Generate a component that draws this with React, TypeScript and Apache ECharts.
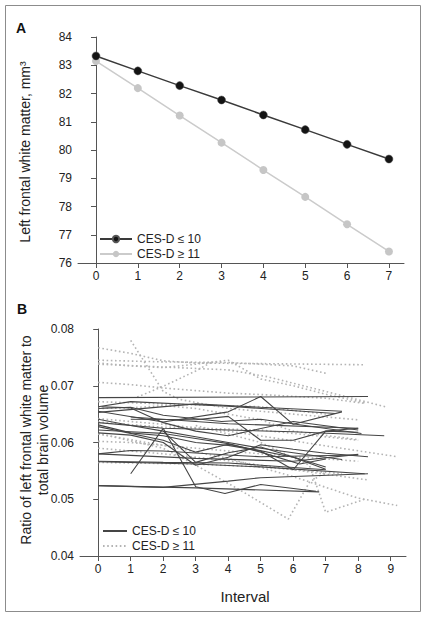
import React, { useEffect, useRef } from "react";
import * as echarts from "echarts";

// Panel A
const intervalsA = [0, 1, 2, 3, 4, 5, 6, 7];
const lowA = [83.33, 82.8, 82.28, 81.77, 81.24, 80.72, 80.2, 79.68];
const highA = [83.15, 82.19, 81.22, 80.26, 79.29, 78.34, 77.37, 76.41];

// Panel B
const ticksB = [0, 1, 2, 3, 4, 5, 6, 7, 8, 9];
const solidB: number[][][] = [
  [[0, 0.0679], [8.3, 0.0681]],
  [[0, 0.0663], [1, 0.0672], [4, 0.0664], [7.3, 0.0651]],
  [[0, 0.0653], [3, 0.0668], [5, 0.0662], [7.5, 0.0655]],
  [[0, 0.0655], [2, 0.0636], [4, 0.0654], [5, 0.0681], [6, 0.0632], [7.5, 0.0654]],
  [[0.1, 0.0663], [1, 0.0661], [2, 0.0635], [3, 0.062], [4, 0.0612], [6, 0.0637], [8, 0.0622]],
  [[1, 0.0645], [4, 0.0633], [8, 0.0625]],
  [[0, 0.0635], [2, 0.0625], [4, 0.0622], [6, 0.0619], [8.8, 0.0612]],
  [[0, 0.0631], [1, 0.0617], [2, 0.0612], [3, 0.06], [4, 0.0595], [5, 0.0585], [6, 0.0552], [7, 0.062], [8, 0.0618]],
  [[0, 0.0628], [2, 0.0604], [3, 0.0583], [4, 0.0597], [6, 0.0574], [7, 0.0553]],
  [[0, 0.0617], [1, 0.0613], [2, 0.06], [3, 0.056], [4, 0.0574], [5, 0.0596], [6, 0.0588], [7, 0.0581], [8.3, 0.0575]],
  [[0, 0.058], [1, 0.0586], [2, 0.0585], [4, 0.0578], [5, 0.0575], [8, 0.0578]],
  [[0, 0.0567], [2, 0.0565], [4, 0.0564], [7, 0.0552]],
  [[0, 0.0566], [3, 0.0562], [5, 0.0557], [8.2, 0.0545]],
  [[0, 0.0524], [2, 0.0521], [4, 0.0532], [5, 0.0538], [8.3, 0.0545]],
  [[0, 0.0524], [3, 0.052], [6.8, 0.0513]],
  [[1, 0.0545], [2, 0.0625], [3, 0.0522], [3.9, 0.051], [5, 0.0526], [6.7, 0.0514]],
  [[0, 0.0622], [1, 0.0619], [2, 0.0616], [3, 0.0607], [4, 0.0598], [5, 0.0583], [6.2, 0.0562], [7, 0.0571]],
  [[1, 0.0641], [3, 0.064], [4, 0.0646], [5, 0.0604], [6, 0.0604], [7, 0.062], [8, 0.0625]],
  [[0, 0.0641], [1, 0.063], [2, 0.062], [3, 0.061], [4, 0.06], [5, 0.059], [6, 0.0582], [7.5, 0.057]],
  [[2, 0.062], [3, 0.0565], [4, 0.0582], [5, 0.0592], [7, 0.0557]],
  [[0, 0.066], [1, 0.0662], [2, 0.0648], [3.8, 0.0637], [5, 0.0641], [8.1, 0.0616]],
  [[0, 0.058], [3, 0.0572], [6, 0.0567], [8, 0.0579]],
];
const dottedB: number[][][] = [
  [[0, 0.0767], [1, 0.0757], [2, 0.0744], [3, 0.074], [5, 0.0739], [8.2, 0.0737]],
  [[1, 0.078], [1.5, 0.0735], [2, 0.069], [2.5, 0.0676], [4, 0.066], [6, 0.065], [8, 0.064]],
  [[0, 0.0745], [2, 0.0742], [4, 0.0741], [6, 0.0735], [7, 0.0722]],
  [[0, 0.074], [1, 0.0735], [2, 0.0732], [3, 0.0738], [4, 0.0745], [5, 0.0712], [6, 0.07], [7, 0.0685], [8.2, 0.067]],
  [[0, 0.0738], [2, 0.0733], [4, 0.0728], [5.2, 0.0716], [7, 0.069], [8.9, 0.0662]],
  [[0, 0.0706], [1, 0.0702], [2, 0.0696], [4, 0.0687], [5.2, 0.0684], [7, 0.0678], [8.2, 0.0669]],
  [[1.2, 0.068], [2, 0.0699], [3, 0.0726], [3.5, 0.0742]],
  [[0, 0.0672], [2, 0.0668], [5, 0.0663], [7, 0.065]],
  [[0, 0.0642], [2, 0.0632], [4, 0.062], [6, 0.0603], [7, 0.0594], [9.2, 0.0575]],
  [[0, 0.0615], [2, 0.0595], [4, 0.0572], [6, 0.054], [8, 0.0502], [9.2, 0.0489]],
  [[0, 0.0616], [2, 0.059], [3, 0.056], [4.4, 0.0515], [5.85, 0.0465], [6.5, 0.053], [7, 0.0548]],
  [[3, 0.063], [5, 0.06], [6.5, 0.056], [7, 0.0477], [8.2, 0.05]],
  [[0, 0.059], [2, 0.058], [4, 0.0568], [6, 0.0552], [8.3, 0.0534]],
  [[0, 0.0565], [3, 0.0562], [5, 0.0557], [7.5, 0.0545]],
  [[0, 0.0636], [2, 0.0627], [5, 0.0622], [8, 0.0604]],
  [[0, 0.066], [1, 0.0661], [2, 0.0665], [3, 0.066], [5, 0.064], [6, 0.062], [8, 0.0605]],
  [[0, 0.0602], [1, 0.06], [2, 0.0595], [4, 0.0585], [6, 0.0575], [8, 0.0567]],
];

const FONT = "Liberation Sans, Arial, sans-serif";
const LOW = "CES-D ≤ 10";
const HIGH = "CES-D ≥ 11";
const names: Record<string, string> = { A_low: LOW, A_high: HIGH, B_low: LOW, B_high: HIGH };
const SOLID_COLOR = "#454545";
const DOT_COLOR = "#b4b4b4";

export default function App() {
  const ref = useRef<HTMLDivElement>(null);
  useEffect(() => {
    const chart = echarts.init(ref.current!, null, { renderer: "svg" });
    const axisCommon = {
      axisLine: { show: true, lineStyle: { color: "#555", width: 1 } },
      axisTick: { show: true, length: 5, lineStyle: { color: "#555" } },
      splitLine: { show: false },
    };
    const series: any[] = [
      {
        name: "A_low",
        type: "line",
        xAxisIndex: 0,
        yAxisIndex: 0,
        data: intervalsA.map((x, i) => [x, lowA[i]]),
        symbol: "circle",
        symbolSize: 8,
        lineStyle: { color: "#3a3a3a", width: 1.5 },
        itemStyle: { color: "#141414", borderColor: "#555", borderWidth: 0.5 },
        z: 3,
      },
      {
        name: "A_high",
        type: "line",
        xAxisIndex: 0,
        yAxisIndex: 0,
        data: intervalsA.map((x, i) => [x, highA[i]]),
        symbol: "circle",
        symbolSize: 8,
        lineStyle: { color: "#cbcbcb", width: 1.5 },
        itemStyle: { color: "#c6c6c6" },
        z: 2,
      },
    ];
    dottedB.forEach((d) =>
      series.push({
        name: "B_high",
        type: "line",
        xAxisIndex: 1,
        yAxisIndex: 1,
        data: d,
        symbol: "none",
        itemStyle: { color: DOT_COLOR },
        lineStyle: { color: DOT_COLOR, width: 1.6, type: [1.6, 2.6] },
        z: 2,
      })
    );
    solidB.forEach((d) =>
      series.push({
        name: "B_low",
        type: "line",
        xAxisIndex: 1,
        yAxisIndex: 1,
        data: d,
        symbol: "none",
        itemStyle: { color: SOLID_COLOR },
        lineStyle: { color: SOLID_COLOR, width: 1.1 },
        z: 3,
      })
    );
    const option: any = {
      animation: false,
      backgroundColor: "#fff",
      textStyle: { fontFamily: FONT },
      grid: [
        { left: 78, top: 37, width: 326, height: 226 },
        { left: 80, top: 329, width: 326, height: 227 },
      ],
      xAxis: [
        {
          type: "value",
          gridIndex: 0,
          min: -0.43,
          max: 7.36,
          ...axisCommon,
          axisTick: { ...axisCommon.axisTick, customValues: intervalsA },
          axisLabel: { customValues: intervalsA, fontSize: 12, color: "#222", margin: 7, fontFamily: FONT },
        },
        {
          type: "value",
          gridIndex: 1,
          min: -0.56,
          max: 9.47,
          ...axisCommon,
          axisTick: { ...axisCommon.axisTick, customValues: ticksB },
          axisLabel: { customValues: ticksB, fontSize: 12, color: "#222", margin: 7, fontFamily: FONT },
        },
      ],
      yAxis: [
        {
          type: "value",
          gridIndex: 0,
          min: 76,
          max: 84,
          interval: 1,
          ...axisCommon,
          axisLabel: { fontSize: 12, color: "#222", margin: 6, fontFamily: FONT },
        },
        {
          type: "value",
          gridIndex: 1,
          min: 0.04,
          max: 0.08,
          interval: 0.01,
          ...axisCommon,
          axisLabel: {
            fontSize: 12,
            color: "#222",
            margin: 6,
            fontFamily: FONT,
            formatter: (v: number) => v.toFixed(2),
          },
        },
      ],
      legend: [
        {
          left: 94,
          top: 228,
          orient: "vertical",
          itemWidth: 32,
          itemHeight: 8,
          itemGap: 3,
          selectedMode: false,
          data: ["A_low", "A_high"],
          formatter: (n: string) => names[n],
          textStyle: { fontSize: 12, color: "#222", fontFamily: FONT },
        },
        {
          left: 97,
          top: 520,
          orient: "vertical",
          itemWidth: 24,
          itemHeight: 9,
          itemGap: 3,
          selectedMode: false,
          data: ["B_low", "B_high"],
          itemStyle: { opacity: 0 },
          formatter: (n: string) => names[n],
          textStyle: { fontSize: 12, color: "#222", fontFamily: FONT },
        },
      ],
      graphic: [
        {
          type: "rect",
          shape: { x: 5.5, y: 5.5, width: 415, height: 606 },
          style: { fill: "none", stroke: "#8c8c8c", lineWidth: 1 },
          silent: true,
        },
        {
          type: "text",
          x: 21,
          y: 28,
          style: { text: "A", fontSize: 14, fontWeight: "bold", fontFamily: FONT, fill: "#111", align: "center", verticalAlign: "middle" },
        },
        {
          type: "text",
          x: 22,
          y: 309,
          style: { text: "B", fontSize: 14, fontWeight: "bold", fontFamily: FONT, fill: "#111", align: "center", verticalAlign: "middle" },
        },
        {
          type: "text",
          x: 25,
          y: 152,
          rotation: Math.PI / 2,
          style: { text: "Left frontal white matter, mm³", fontSize: 14, fontFamily: FONT, fill: "#222", align: "center", verticalAlign: "middle" },
        },
        {
          type: "text",
          x: 26,
          y: 440,
          rotation: Math.PI / 2,
          style: { text: "Ratio of left frontal white matter to", fontSize: 14, fontFamily: FONT, fill: "#222", align: "center", verticalAlign: "middle" },
        },
        {
          type: "text",
          x: 43,
          y: 440,
          rotation: Math.PI / 2,
          style: { text: "total brain volume", fontSize: 14, fontFamily: FONT, fill: "#222", align: "center", verticalAlign: "middle" },
        },
        {
          type: "text",
          x: 245,
          y: 596,
          style: { text: "Interval", fontSize: 15, fontFamily: FONT, fill: "#222", align: "center", verticalAlign: "middle" },
        },
      ],
      series,
    };
    chart.setOption(option);
    return () => chart.dispose();
  }, []);
  return (
    <div
      ref={ref}
      style={{ position: "fixed", left: 0, top: 0, width: 426, height: 620, background: "#fff" }}
    />
  );
}
